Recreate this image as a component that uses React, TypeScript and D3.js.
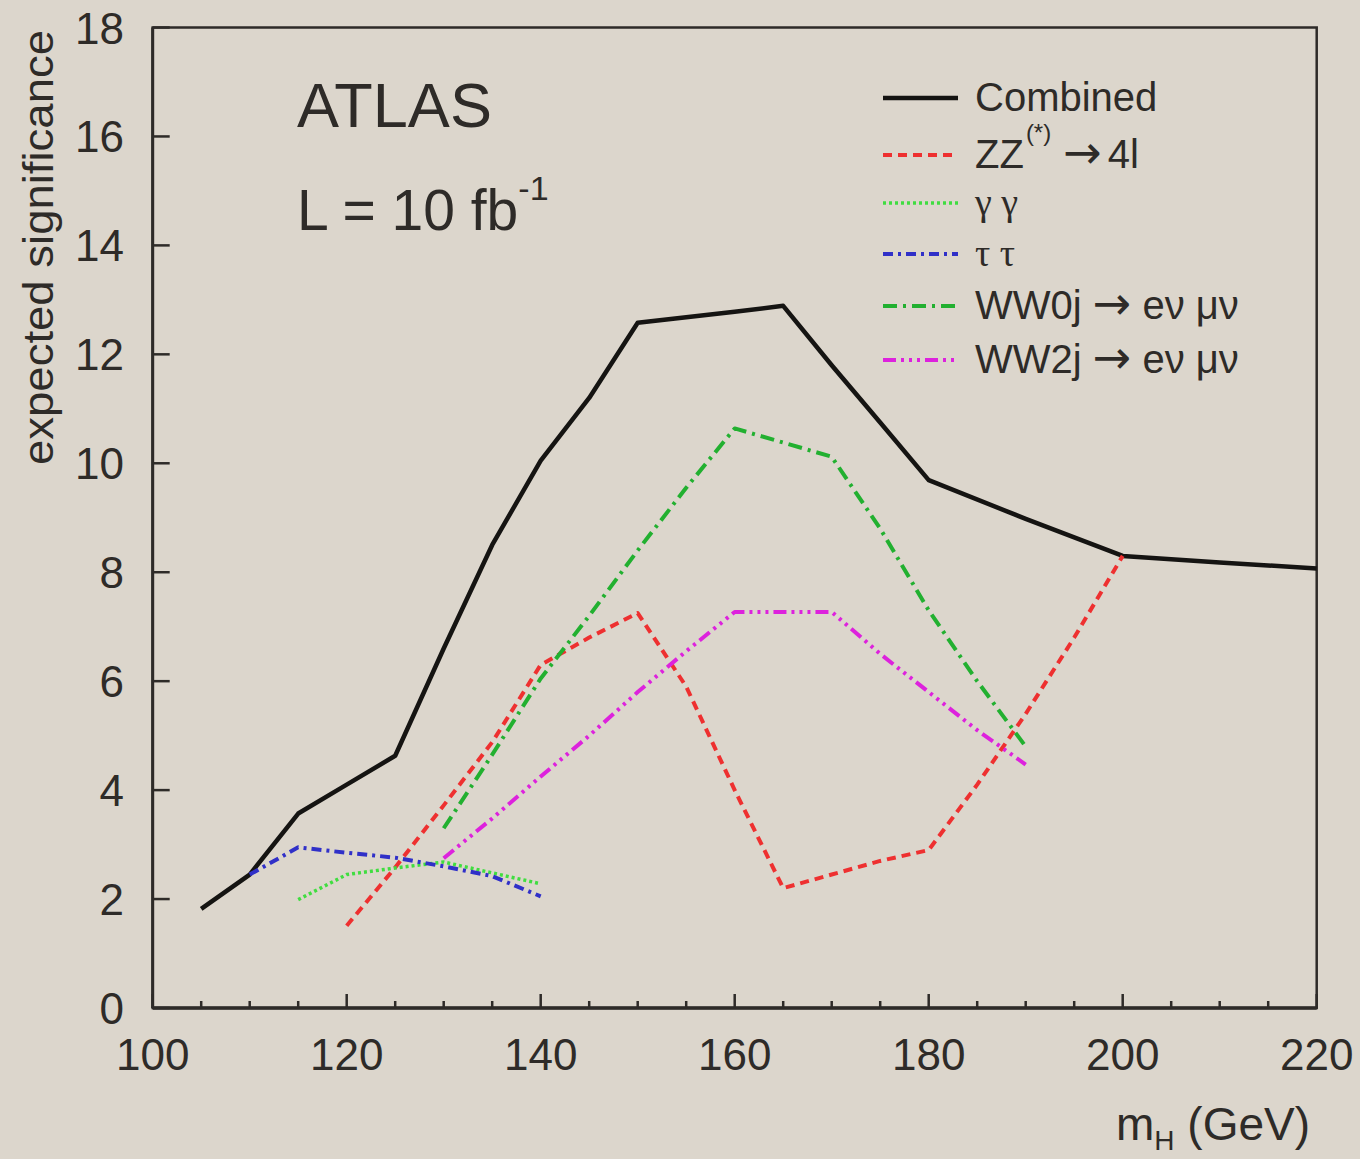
import React from 'react';
import * as d3 from 'd3';

// masses (GeV) and expected significance per channel
const combinedMass = [105, 110, 115, 120, 125, 130, 135, 140, 145, 150, 155, 160, 165, 170, 175, 180, 190, 200, 210, 220];
const combinedSig = [1.82, 2.45, 3.57, 4.1, 4.63, 6.6, 8.5, 10.05, 11.2, 12.58, 12.68, 12.78, 12.89, 11.8, 10.75, 9.69, 8.98, 8.3, 8.18, 8.07];

const zzMass = [120, 125, 130, 135, 140, 145, 150, 155, 160, 165, 170, 175, 180, 185, 190, 195, 200];
const zzSig = [1.51, 2.58, 3.72, 4.88, 6.3, 6.8, 7.25, 5.9, 4.0, 2.2, 2.45, 2.7, 2.9, 4.1, 5.4, 6.8, 8.3];

const ggMass = [115, 120, 125, 130, 135, 140];
const ggSig = [1.99, 2.45, 2.57, 2.68, 2.48, 2.28];

const ttMass = [110, 115, 120, 125, 130, 135, 140];
const ttSig = [2.45, 2.95, 2.85, 2.76, 2.6, 2.42, 2.05];

const ww0jMass = [130, 135, 140, 145, 150, 155, 160, 170, 175, 180, 185, 190];
const ww0jSig = [3.3, 4.65, 6.05, 7.2, 8.4, 9.55, 10.64, 10.12, 8.8, 7.3, 6.0, 4.8];

const ww2jMass = [130, 135, 140, 145, 150, 155, 160, 170, 175, 180, 185, 190];
const ww2jSig = [2.75, 3.48, 4.25, 5.0, 5.8, 6.55, 7.27, 7.27, 6.5, 5.8, 5.1, 4.47];

const xTicks = [100, 120, 140, 160, 180, 200, 220];
const yTicks = [0, 2, 4, 6, 8, 10, 12, 14, 16, 18];

const FONT = "'Liberation Sans', Arial, Helvetica, sans-serif";
const SERIF = "'Liberation Serif', 'DejaVu Serif', serif";
const ARROW = "'DejaVu Sans', sans-serif";
const INK = '#2e2b28';

const W = 1360;
const H = 1159;

const series = [
  { key: 'comb', mass: combinedMass, sig: combinedSig, color: '#151412', dash: 'none', width: 4.5 },
  { key: 'zz', mass: zzMass, sig: zzSig, color: '#ee3030', dash: '9,6', width: 4 },
  { key: 'gg', mass: ggMass, sig: ggSig, color: '#40dd40', dash: '3,3', width: 3.5 },
  { key: 'tt', mass: ttMass, sig: ttSig, color: '#3030c8', dash: '10,5,3,5', width: 4 },
  { key: 'ww0', mass: ww0jMass, sig: ww0jSig, color: '#22b030', dash: '14,6,3,6', width: 4 },
  { key: 'ww2', mass: ww2jMass, sig: ww2jSig, color: '#dd22dd', dash: '13,5,3,5,3,5,3,5', width: 4 },
];

export default function App() {
  const x = d3.scaleLinear().domain([100, 220]).range([152.7, 1316.7]);
  const y = d3.scaleLinear().domain([0, 18]).range([1008, 27.5]);
  const minorX = d3.range(100, 221, 5);

  const line = (m: number[], s: number[]) =>
    d3.line<number>()
      .x((_, i) => x(m[i]))
      .y((v) => y(v))(s) || '';

  const legendRows = [98, 155, 203, 254, 306, 360];
  const lx0 = 883;
  const lx1 = 958;
  const tx = 975;

  return (
    <svg width={W} height={H} style={{ position: 'absolute', left: 0, top: 0 }}>
      <rect width={W} height={H} fill="#dcd6cc" />

      {/* frame */}
      <rect x={x(100)} y={y(18)} width={x(220) - x(100)} height={y(0) - y(18)} fill="none" stroke={INK} strokeWidth={2.5} />
      <line x1={x(100)} x2={x(220)} y1={y(0)} y2={y(0)} stroke={INK} strokeWidth={3.5} />
      <line x1={x(100)} x2={x(100)} y1={y(0)} y2={y(18)} stroke={INK} strokeWidth={3} />

      {/* x ticks */}
      {minorX.map((v) => (
        <line key={'mx' + v} x1={x(v)} x2={x(v)} y1={y(0)} y2={y(0) - (v % 20 === 0 ? 14 : 7)} stroke={INK} strokeWidth={2.5} />
      ))}
      {xTicks.map((v) => (
        <text key={'xl' + v} x={x(v)} y={1070} fontSize={44} fontFamily={FONT} fill={INK} textAnchor="middle">{v}</text>
      ))}

      {/* y ticks */}
      {yTicks.map((v) => (
        <g key={'y' + v}>
          <line x1={x(100)} x2={x(100) + 17} y1={y(v)} y2={y(v)} stroke={INK} strokeWidth={2.5} />
          <text x={124} y={y(v) + 16} fontSize={44} fontFamily={FONT} fill={INK} textAnchor="end">{v}</text>
        </g>
      ))}

      {/* axis titles */}
      <text transform="translate(53,30) rotate(-90)" fontSize={43} fontFamily={FONT} fill={INK} textAnchor="end"
        textLength={435} lengthAdjust="spacingAndGlyphs">expected significance</text>
      <text x={1310} y={1140} fontSize={46} fontFamily={FONT} fill={INK} textAnchor="end">
        m<tspan fontSize={28} dy={10}>H</tspan><tspan dy={-10}> (GeV)</tspan>
      </text>

      {/* labels */}
      <text x={297} y={127} fontSize={63} fontFamily={FONT} fill={INK}>ATLAS</text>
      <text x={297} y={230} fontSize={57} fontFamily={FONT} fill={INK}>
        L = 10 fb<tspan fontSize={34} dy={-30}>-1</tspan>
      </text>

      {/* curves */}
      {series.map((s) => (
        <path key={s.key} d={line(s.mass, s.sig)} fill="none" stroke={s.color} strokeWidth={s.width}
          strokeDasharray={s.dash === 'none' ? undefined : s.dash} strokeLinejoin="round" />
      ))}

      {/* legend */}
      {series.map((s, i) => (
        <line key={'lg' + s.key} x1={lx0} x2={lx1} y1={legendRows[i]} y2={legendRows[i]} stroke={s.color}
          strokeWidth={s.width} strokeDasharray={s.dash === 'none' ? undefined : s.dash} />
      ))}
      <text x={tx} y={legendRows[0] + 13} fontSize={40} fontFamily={FONT} fill={INK}>Combined</text>
      <text x={tx} y={legendRows[1] + 13} fontSize={40} fontFamily={FONT} fill={INK}>
        ZZ<tspan fontSize={24} dy={-27} dx={2}>(*)</tspan>
        <tspan dy={27} dx={12} fontFamily={ARROW} fontSize={46}>→</tspan>
        <tspan dx={6}>4l</tspan>
      </text>
      <text x={tx} y={legendRows[2] + 12} fontSize={38} fontFamily={SERIF} fill={INK}>γ γ</text>
      <text x={tx} y={legendRows[3] + 12} fontSize={38} fontFamily={SERIF} fill={INK}>τ τ</text>
      <text x={tx} y={legendRows[4] + 13} fontSize={40} fontFamily={FONT} fill={INK}>
        WW0j <tspan fontFamily={ARROW} fontSize={46}>→</tspan> eν μν
      </text>
      <text x={tx} y={legendRows[5] + 13} fontSize={40} fontFamily={FONT} fill={INK}>
        WW2j <tspan fontFamily={ARROW} fontSize={46}>→</tspan> eν μν
      </text>
    </svg>
  );
}
